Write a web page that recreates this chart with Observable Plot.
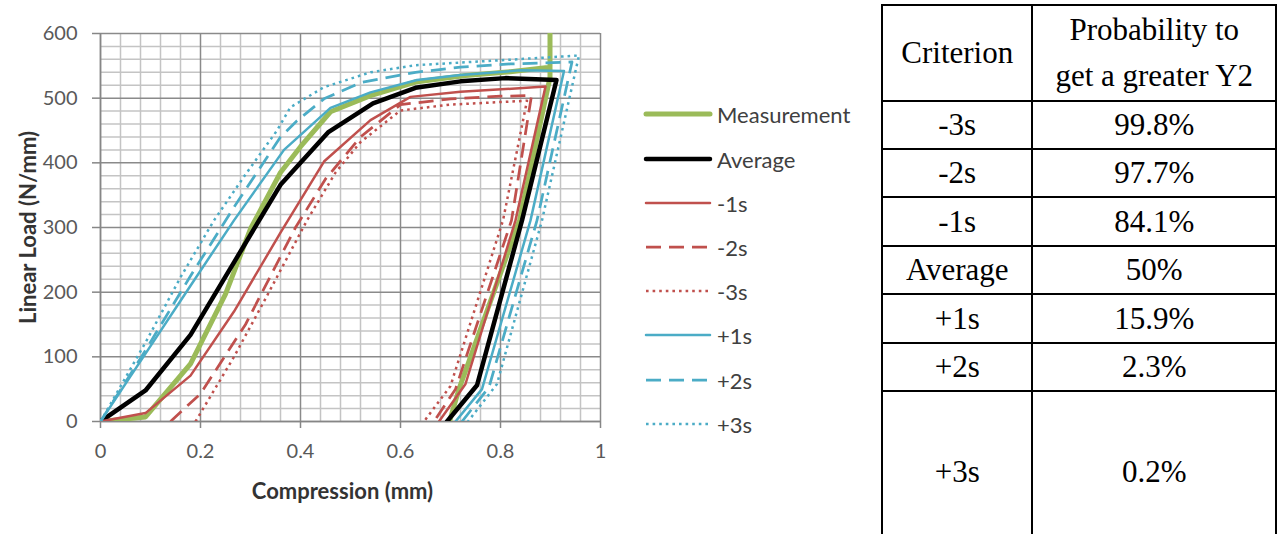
<!DOCTYPE html>
<html>
<head>
<meta charset="utf-8">
<script src="https://cdn.jsdelivr.net/npm/d3@7"></script>
<script src="https://cdn.jsdelivr.net/npm/@observablehq/plot@0.6"></script>
<style>
  html, body { margin: 0; padding: 0; background: #fff; }
  body { width: 1277px; height: 534px; overflow: hidden; position: relative; }
  #chart { position: absolute; left: 0; top: 0; }
  #legend { position: absolute; left: 0; top: 0; font-family: Lato, "Liberation Sans", sans-serif; font-size: 22px; color: #404040; }
  .lg { position: absolute; left: 643px; height: 30px; display: flex; align-items: center; white-space: nowrap; }
  .lg svg { display: block; margin-right: 4px; }
  #tbl { position: absolute; left: 881px; top: 4px; border-collapse: collapse; font-family: "Liberation Serif", "Times New Roman", serif; font-size: 31px; color: #000; }
  #tbl td { border: 2px solid #000; text-align: center; vertical-align: middle; padding: 0; line-height: 46px; }
  #tbl tr.last td { border-bottom: none; }
</style>
</head>
<body>
<div id="chart"></div>
<div id="legend"></div>
<table id="tbl"></table>
<script>
// ---------- data ----------
const seriesNames = ["Measurement", "Average", "-1s", "-2s", "-3s", "+1s", "+2s", "+3s"];

const measurementX = [0, 0.09, 0.18, 0.25, 0.30, 0.36, 0.40, 0.46, 0.54, 0.63, 0.73, 0.82, 0.899, 0.899, 0.899, 0.838, 0.717, 0.698];
const measurementY = [0, 7, 89, 197, 298, 385, 425, 479, 504, 525, 535, 541, 548, 680, 532, 311, 50, 0];

const averageX = [0, 0.09, 0.18, 0.27, 0.36, 0.455, 0.545, 0.63, 0.72, 0.81, 0.912, 0.843, 0.753, 0.693];
const averageY = [0, 48, 134, 250, 366, 447, 492, 516, 526, 531, 528, 311, 56, 0];

const minus1sX = [0, 0.09, 0.18, 0.267, 0.36, 0.447, 0.54, 0.62, 0.72, 0.81, 0.89, 0.83, 0.73, 0.677];
const minus1sY = [0, 13, 71, 170, 292, 402, 466, 502, 510, 514, 518, 311, 58, 0];

const minus2sX = [0.14, 0.2, 0.29, 0.39, 0.45, 0.52, 0.6, 0.7, 0.8, 0.862, 0.822, 0.71, 0.667];
const minus2sY = [0, 43, 150, 300, 375, 440, 490, 499, 503, 504, 311, 50, 0];

const minus3sX = [0.19, 0.267, 0.33, 0.413, 0.47, 0.52, 0.6, 0.7, 0.8, 0.853, 0.805, 0.70, 0.647];
const minus3sY = [0, 100, 190, 311, 385, 432, 481, 490, 494, 496, 311, 55, 0];

const plus1sX = [0, 0.09, 0.18, 0.267, 0.367, 0.46, 0.54, 0.633, 0.72, 0.84, 0.927, 0.86, 0.763, 0.71];
const plus1sY = [0, 105, 210, 311, 420, 485, 509, 528, 536, 543, 542, 311, 50, 0];

const plus2sX = [0, 0.09, 0.18, 0.27, 0.36, 0.393, 0.447, 0.52, 0.63, 0.72, 0.82, 0.943, 0.873, 0.777, 0.723];
const plus2sY = [0, 110, 225, 335, 440, 465, 499, 524, 540, 548, 553, 556, 311, 53, 0];

const plus3sX = [0, 0.09, 0.16, 0.227, 0.29, 0.353, 0.38, 0.447, 0.54, 0.63, 0.787, 0.957, 0.883, 0.793, 0.735];
const plus3sY = [0, 122, 223, 311, 382, 450, 486, 517, 540, 551, 558, 566, 311, 58, 0];

const xTicks = [0, 0.2, 0.4, 0.6, 0.8, 1];
const xTickLabels = ["0", "0.2", "0.4", "0.6", "0.8", "1"];
const yTicks = [0, 100, 200, 300, 400, 500, 600];
const yTickLabels = ["0", "100", "200", "300", "400", "500", "600"];
const xMinorGrid = [0.04, 0.08, 0.12, 0.16, 0.24, 0.28, 0.32, 0.36, 0.44, 0.48, 0.52, 0.56, 0.64, 0.68, 0.72, 0.76, 0.84, 0.88, 0.92, 0.96];
const yMinorGrid = [20, 40, 60, 80, 120, 140, 160, 180, 220, 240, 260, 280, 320, 340, 360, 380, 420, 440, 460, 480, 520, 540, 560, 580];

const xTitle = "Compression (mm)";
const yTitle = "Linear Load (N/mm)";

const tableHeader = ["Criterion", "Probability to", "get a greater Y2"];
const criteria = ["-3s", "-2s", "-1s", "Average", "+1s", "+2s", "+3s"];
const probabilities = ["99.8%", "97.7%", "84.1%", "50%", "15.9%", "2.3%", "0.2%"];

// ---------- styles ----------
const RED = "#C0504D", BLUE = "#4BACC6", GREEN = "#9BBB59";
const seriesStyle = {
  "Measurement": {stroke: GREEN, strokeWidth: 5, dash: null},
  "Average": {stroke: "#000000", strokeWidth: 4.5, dash: null},
  "-1s": {stroke: RED, strokeWidth: 2.5, dash: null},
  "-2s": {stroke: RED, strokeWidth: 2.75, dash: "15,8"},
  "-3s": {stroke: RED, strokeWidth: 2.5, dash: "2.6,4"},
  "+1s": {stroke: BLUE, strokeWidth: 2.5, dash: null},
  "+2s": {stroke: BLUE, strokeWidth: 2.75, dash: "15,8"},
  "+3s": {stroke: BLUE, strokeWidth: 2.5, dash: "2.6,4"}
};

const seriesXY = [
  [measurementX, measurementY], [averageX, averageY],
  [minus1sX, minus1sY], [minus2sX, minus2sY], [minus3sX, minus3sY],
  [plus1sX, plus1sY], [plus2sX, plus2sY], [plus3sX, plus3sY]
];
const rows = seriesNames.flatMap((s, k) =>
  seriesXY[k][0].map((x, i) => ({series: s, x, y: seriesXY[k][1][i]})));

const lineMarks = seriesNames.map(s => {
  const st = seriesStyle[s];
  const o = {
    x: "x", y: "y", stroke: st.stroke, strokeWidth: st.strokeWidth,
    strokeLinejoin: "round", strokeLinecap: st.dash ? "butt" : "round",
    curve: "linear", clip: true
  };
  if (st.dash) o.strokeDasharray = st.dash;
  return Plot.line(rows.filter(r => r.series === s), o);
});

const chart = Plot.plot({
  width: 620,
  height: 534,
  marginLeft: 100,
  marginRight: 20,
  marginTop: 33,
  marginBottom: 113,
  x: {domain: [0, 1]},
  y: {domain: [0, 600]},
  style: {fontFamily: "Lato, 'Liberation Sans', sans-serif", fontSize: "20px", background: "#fff", overflow: "visible"},
  marks: [
    Plot.ruleX(xMinorGrid, {stroke: "#c4c4c4", strokeWidth: 1.5}),
    Plot.ruleY(yMinorGrid, {stroke: "#c4c4c4", strokeWidth: 1.5}),
    Plot.ruleX(xTicks, {stroke: "#8a8a8a", strokeWidth: 1.5}),
    Plot.ruleY(yTicks, {stroke: "#8a8a8a", strokeWidth: 1.5}),
    Plot.axisX(xTicks, {tickSize: 7, tickPadding: 15, stroke: "#868686", strokeWidth: 1.5, fill: "#595959",
      tickFormat: d => xTickLabels[xTicks.indexOf(d)], label: null}),
    Plot.axisY(yTicks, {tickSize: 8, tickPadding: 15, stroke: "#868686", strokeWidth: 1.5, fill: "#595959",
      tickFormat: d => yTickLabels[yTicks.indexOf(d)], label: null}),
    Plot.ruleX([0], {stroke: "#868686", strokeWidth: 1.5}),
    Plot.ruleY([0], {stroke: "#868686", strokeWidth: 1.5}),
    ...lineMarks,
    Plot.text([xTitle], {text: d => d, frameAnchor: "bottom", textAnchor: "middle", dy: 77, dx: -8, fontWeight: "bold", fontSize: 22, fill: "#333"}),
    Plot.text([yTitle], {text: d => d, frameAnchor: "left", textAnchor: "middle", dx: -72, rotate: -90, fontWeight: "bold", fontSize: 22, fill: "#333"})
  ]
});
document.getElementById("chart").appendChild(chart);

// ---------- legend ----------
const legendTop = [114, 159, 203, 247, 291, 335, 380, 424];
const legend = document.getElementById("legend");
seriesNames.forEach((s, k) => {
  const st = seriesStyle[s];
  const row = document.createElement("div");
  row.className = "lg";
  row.style.top = (legendTop[k] - 15) + "px";
  const ns = "http://www.w3.org/2000/svg";
  const svg = document.createElementNS(ns, "svg");
  svg.setAttribute("width", "70"); svg.setAttribute("height", "12");
  const ln = document.createElementNS(ns, "line");
  ln.setAttribute("x1", "3"); ln.setAttribute("x2", "67");
  ln.setAttribute("y1", "6"); ln.setAttribute("y2", "6");
  ln.setAttribute("stroke", st.stroke);
  ln.setAttribute("stroke-width", st.strokeWidth);
  ln.setAttribute("stroke-linecap", st.dash ? "butt" : "round");
  if (st.dash) ln.setAttribute("stroke-dasharray", st.dash);
  svg.appendChild(ln);
  row.appendChild(svg);
  const span = document.createElement("span");
  span.textContent = s;
  row.appendChild(span);
  legend.appendChild(row);
});

// ---------- table ----------
const tbl = document.getElementById("tbl");
const colW = [149, 243];
const rowH = [96, 48, 48, 49, 48, 49, 48, 160];
let html = `<tr style="height:${rowH[0]}px"><td style="width:${colW[0]}px">${tableHeader[0]}</td><td style="width:${colW[1]}px">${tableHeader[1]}<br>${tableHeader[2]}</td></tr>`;
criteria.forEach((c, i) => {
  const cls = i === criteria.length - 1 ? ' class="last"' : "";
  html += `<tr${cls} style="height:${rowH[i + 1]}px"><td>${c}</td><td>${probabilities[i]}</td></tr>`;
});
tbl.innerHTML = html;
</script>
</body>
</html>
